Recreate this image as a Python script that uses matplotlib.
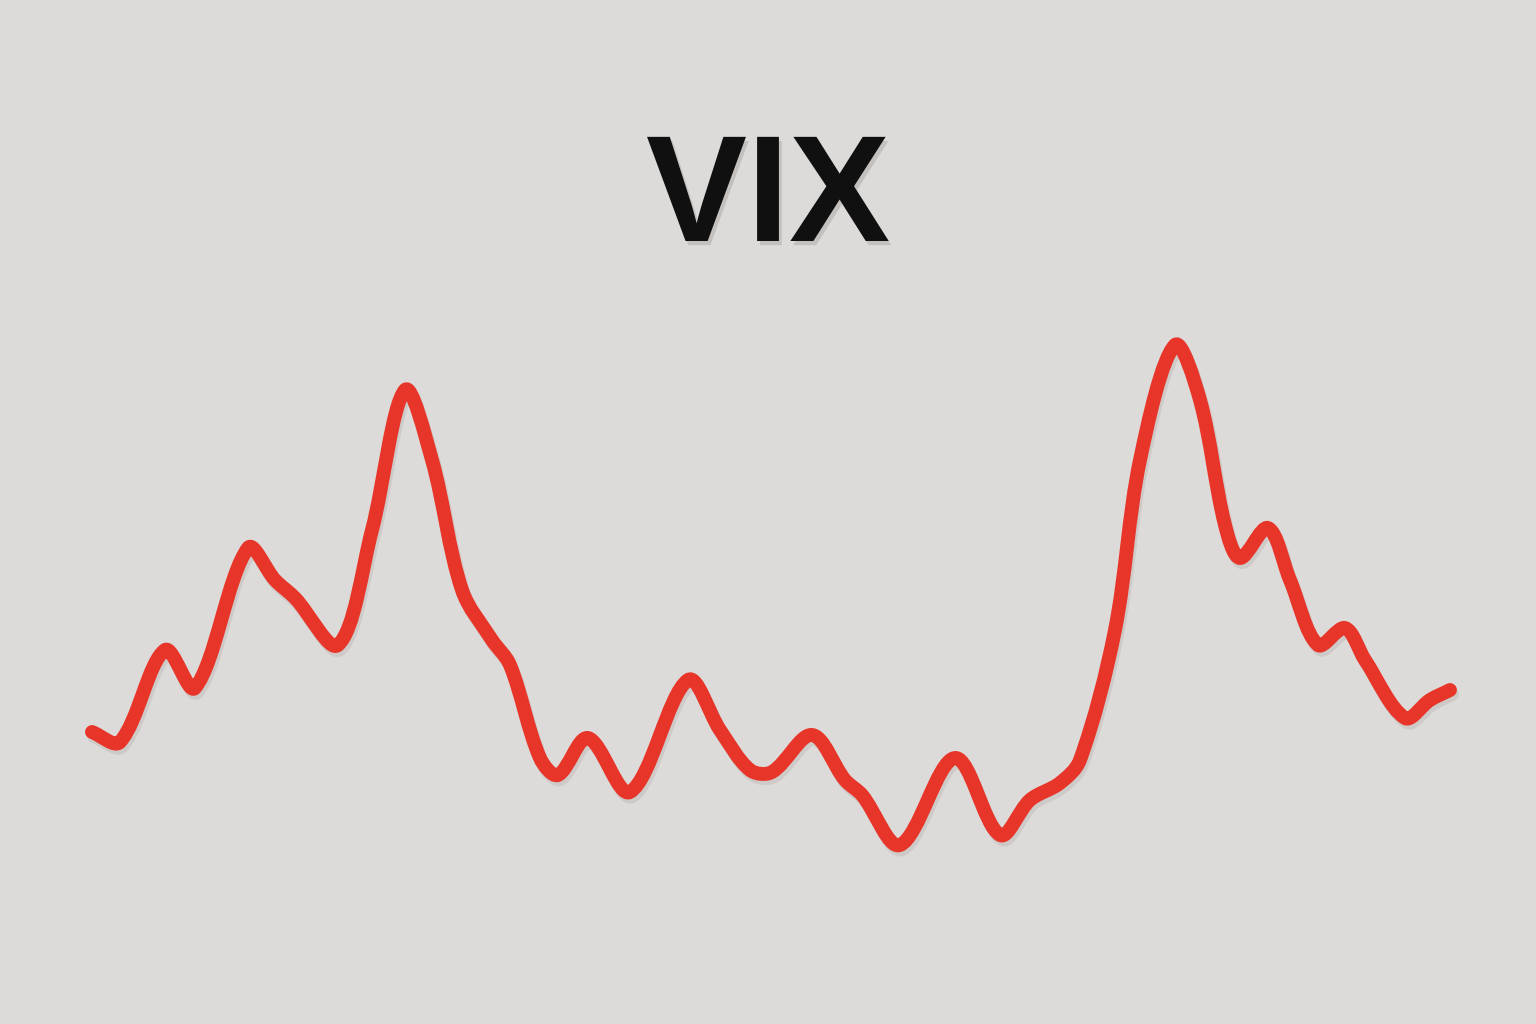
import numpy as np
import matplotlib.pyplot as plt
from matplotlib.path import Path
from matplotlib.patches import PathPatch
import matplotlib.patheffects as pe

# 数据：时间点与 VIX 读数
days = [0, 2.8, 7.3, 10.3, 15.6, 18.3, 20.3, 24.6, 28.0, 31.3, 34.0, 37.0, 40.0, 41.8,
        44.8, 46.6, 49.6, 53.8, 59.6, 62.8, 65.8, 68.0, 72.0, 75.3, 77.0, 80.8, 86.3,
        90.8, 93.8, 96.8, 98.8, 102.3, 104.8, 108.3, 110.8, 113.3, 114.8, 117.6, 119.8,
        122.6, 125.3, 127.3, 131.3, 133.8, 135.8]
vix = [13.4, 12.9, 17.5, 15.6, 22.6, 21.0, 20.1, 17.75, 23.5, 30.5, 27.0, 20.5, 18.0, 16.75,
       12.1, 11.25, 13.1, 10.4, 16.0, 13.5, 11.5, 11.4, 13.25, 11.0, 10.25, 7.75, 12.1,
       8.25, 10.0, 10.85, 12.0, 18.5, 27.0, 32.75, 30.0, 23.75, 22.1, 23.6, 21.0,
       17.75, 18.6, 17.0, 14.1, 15.0, 15.5]

bg = "#DDDBD9"
line_color = "#E8352A"

fig = plt.figure(figsize=(15.36, 10.24), dpi=100, facecolor=bg)
ax = fig.add_axes([0, 0, 1, 1])
ax.set_facecolor(bg)
ax.set_xlim(-9.2, 144.4)
ax.set_ylim(-1.2, 50)
ax.axis("off")

# 平滑曲线：按弦长参数化的三次贝塞尔（Catmull-Rom 风格）
pts = np.column_stack([days, vix])
scale = np.array([10.0, 20.0])          # 近似屏幕比例，用来算弦长
sp = pts * scale
seg = np.linalg.norm(np.diff(sp, axis=0), axis=1)
t = np.concatenate([[0], np.cumsum(seg)])
n = len(pts)
tang = np.zeros_like(pts)
for i in range(n):
    a = max(i - 1, 0)
    b = min(i + 1, n - 1)
    tang[i] = (pts[b] - pts[a]) / (t[b] - t[a])

verts = [pts[0]]
codes = [Path.MOVETO]
for i in range(n - 1):
    h = t[i + 1] - t[i]
    verts += [pts[i] + tang[i] * h / 3, pts[i + 1] - tang[i + 1] * h / 3, pts[i + 1]]
    codes += [Path.CURVE4] * 3

patch = PathPatch(Path(verts, codes), facecolor="none", edgecolor=line_color,
                  linewidth=10, capstyle="round", joinstyle="round")
patch.set_path_effects([pe.SimpleLineShadow(offset=(1.5, -3), shadow_color="#9a8f8c", alpha=0.22),
                        pe.Normal()])
ax.add_patch(patch)

# 标题
fig.text(0.5, 1 - 202 / 1024, "VIX", ha="center", va="center", fontsize=109,
         fontweight="bold", family=["Liberation Sans", "DejaVu Sans"], color="#111010",
         path_effects=[pe.SimplePatchShadow(offset=(2, -3), shadow_rgbFace="#8a8280", alpha=0.3),
                       pe.Normal()])

fig.savefig("out.png", dpi=100, facecolor=bg)
